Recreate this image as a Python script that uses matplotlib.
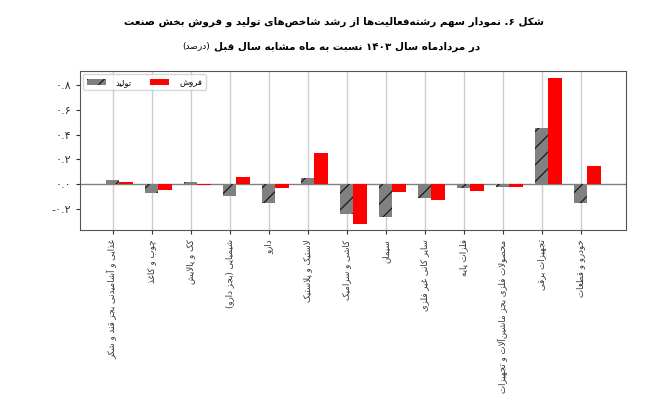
import re
import matplotlib
matplotlib.use('Agg')
import matplotlib.pyplot as plt
import numpy as np

# Persian text, logical order
title_1 = 'شکل ۶. نمودار سهم رشته\u200cفعالیت\u200cها از رشد شاخص\u200cهای تولید و فروش بخش صنعت'
title_2 = 'در مردادماه سال ۱۴۰۳ نسبت به ماه مشابه سال قبل'
title_unit = '(درصد)'

categories = [
    'غذایی و آشامیدنی بجز قند و شکر',
    'چوب و کاغذ',
    'کک و پالایش',
    'شیمیایی (بجز دارو)',
    'دارو',
    'لاستیک و پلاستیک',
    'کاشی و سرامیک',
    'سیمان',
    'سایر کانی غیر فلزی',
    'فلزات پایه',
    'محصولات فلزی بجز ماشین\u200cآلات و تجهیزات',
    'تجهیزات برقی',
    'خودرو و قطعات',
]
production = [0.03, -0.07, 0.015, -0.095, -0.15, 0.05, -0.24, -0.265, -0.115, -0.03, -0.02, 0.455, -0.15]
sales = [0.02, -0.05, -0.01, 0.06, -0.03, 0.255, -0.32, -0.06, -0.125, -0.055, -0.02, 0.86, 0.145]
label_prod = 'تولید'
label_sales = 'فروش'

yticks = [-0.2, 0.0, 0.2, 0.4, 0.6, 0.8]
ytick_labels = ['-۰.۲', '۰.۰', '۰.۲', '۰.۴', '۰.۶', '۰.۸']

# --- minimal arabic/persian shaping (no arabic_reshaper available) ---
# forms: isolated, final, initial, medial (None for right-joining letters)
FORMS = {
    'ا': (0xFE8D, 0xFE8E, None, None),
    'آ': (0xFE81, 0xFE82, None, None),
    'د': (0xFEA9, 0xFEAA, None, None),
    'ذ': (0xFEAB, 0xFEAC, None, None),
    'ر': (0xFEAD, 0xFEAE, None, None),
    'ز': (0xFEAF, 0xFEB0, None, None),
    'ژ': (0xFB8A, 0xFB8B, None, None),
    'و': (0xFEED, 0xFEEE, None, None),
    'ب': (0xFE8F, 0xFE90, 0xFE91, 0xFE92),
    'پ': (0xFB56, 0xFB57, 0xFB58, 0xFB59),
    'ت': (0xFE95, 0xFE96, 0xFE97, 0xFE98),
    'ث': (0xFE99, 0xFE9A, 0xFE9B, 0xFE9C),
    'ج': (0xFE9D, 0xFE9E, 0xFE9F, 0xFEA0),
    'چ': (0xFB7A, 0xFB7B, 0xFB7C, 0xFB7D),
    'ح': (0xFEA1, 0xFEA2, 0xFEA3, 0xFEA4),
    'خ': (0xFEA5, 0xFEA6, 0xFEA7, 0xFEA8),
    'س': (0xFEB1, 0xFEB2, 0xFEB3, 0xFEB4),
    'ش': (0xFEB5, 0xFEB6, 0xFEB7, 0xFEB8),
    'ص': (0xFEB9, 0xFEBA, 0xFEBB, 0xFEBC),
    'ض': (0xFEBD, 0xFEBE, 0xFEBF, 0xFEC0),
    'ط': (0xFEC1, 0xFEC2, 0xFEC3, 0xFEC4),
    'ظ': (0xFEC5, 0xFEC6, 0xFEC7, 0xFEC8),
    'ع': (0xFEC9, 0xFECA, 0xFECB, 0xFECC),
    'غ': (0xFECD, 0xFECE, 0xFECF, 0xFED0),
    'ف': (0xFED1, 0xFED2, 0xFED3, 0xFED4),
    'ق': (0xFED5, 0xFED6, 0xFED7, 0xFED8),
    'ک': (0xFB8E, 0xFB8F, 0xFB90, 0xFB91),
    'گ': (0xFB92, 0xFB93, 0xFB94, 0xFB95),
    'ل': (0xFEDD, 0xFEDE, 0xFEDF, 0xFEE0),
    'م': (0xFEE1, 0xFEE2, 0xFEE3, 0xFEE4),
    'ن': (0xFEE5, 0xFEE6, 0xFEE7, 0xFEE8),
    'ه': (0xFEE9, 0xFEEA, 0xFEEB, 0xFEEC),
    'ی': (0xFBFC, 0xFBFD, 0xFBFE, 0xFBFF),
    'ئ': (0xFE89, 0xFE8A, 0xFE8B, 0xFE8C),
}
LAM_ALEF = {'ا': (0xFEFB, 0xFEFC), 'آ': (0xFEF5, 0xFEF6)}


def joins_next(c):
    return c in FORMS and FORMS[c][2] is not None


def shape(s):
    out = []
    i = 0
    n = len(s)
    while i < n:
        c = s[i]
        if c not in FORMS:
            out.append(c)
            i += 1
            continue
        prev = s[i - 1] if i > 0 else ''
        cp = joins_next(prev)
        if c == 'ل' and i + 1 < n and s[i + 1] in LAM_ALEF:
            iso, fin = LAM_ALEF[s[i + 1]]
            out.append(chr(fin if cp else iso))
            i += 2
            continue
        nxt = s[i + 1] if i + 1 < n else ''
        cn = joins_next(c) and nxt in FORMS
        iso, fin, ini, med = FORMS[c]
        if cp and cn:
            g = med
        elif cp:
            g = fin
        elif cn:
            g = ini
        else:
            g = iso
        out.append(chr(g))
        i += 1
    return ''.join(out).replace('\u200c', '')


MIRROR = str.maketrans('()', ')(')


def fa(s):
    # shape then lay out right-to-left, keeping digit runs left-to-right
    shaped = shape(s)
    runs = re.findall(r'[0-9۰-۹]+|[^0-9۰-۹]+', shaped)
    parts = []
    for r in reversed(runs):
        if r[0] in '0123456789۰۱۲۳۴۵۶۷۸۹':
            parts.append(r)
        else:
            parts.append(r[::-1].translate(MIRROR))
    return ''.join(parts)


plt.rcParams['font.family'] = ['DejaVu Sans']
plt.rcParams['hatch.linewidth'] = 0.9

fig = plt.figure(figsize=(6.67, 3.97), dpi=100)
ax = fig.add_axes([0.12, 0.42, 0.8185, 0.401])

x = np.arange(len(categories))
w = 0.34
ax.bar(x, production, w, color='gray', hatch='//', edgecolor='#1a1a1a', linewidth=0,
       label=fa(label_prod), zorder=3)
ax.bar(x + w, sales, w, color='red', linewidth=0, label=fa(label_sales), zorder=3)

ax.axhline(0, color='gray', linewidth=1.0, zorder=2)
ax.set_xlim(-0.84, 13.16)
ax.set_ylim(-0.372, 0.913)
ax.set_yticks(yticks)
ax.set_yticklabels(ytick_labels, fontsize=8)
ax.set_xticks(x)
ax.set_xticklabels([fa(c) for c in categories], rotation=90, fontsize=6.2, va='top')
ax.xaxis.grid(True, color='#cccccc', linewidth=1.0, zorder=0)
ax.set_axisbelow(True)
for sp in ax.spines.values():
    sp.set_color('#555555')
ax.tick_params(axis='both', length=3, colors='#333333')

leg = ax.legend(loc='upper left', ncol=2, fontsize=6, frameon=True,
                handlelength=2.3, handletextpad=1.2, columnspacing=2.2,
                borderaxespad=0.4)
leg.get_frame().set_edgecolor('#cccccc')

fig.text(0.5, 1 - 22 / 397, fa(title_1), ha='center', va='center',
         fontsize=7.5, fontweight='bold')
fig.text(480 / 667, 1 - 47 / 397, fa(title_2), ha='right', va='center',
         fontsize=7.5, fontweight='bold')
fig.text(210 / 667, 1 - 46 / 397, fa(title_unit), ha='right', va='center',
         fontsize=6.5)

fig.savefig('out.png', dpi=100)
